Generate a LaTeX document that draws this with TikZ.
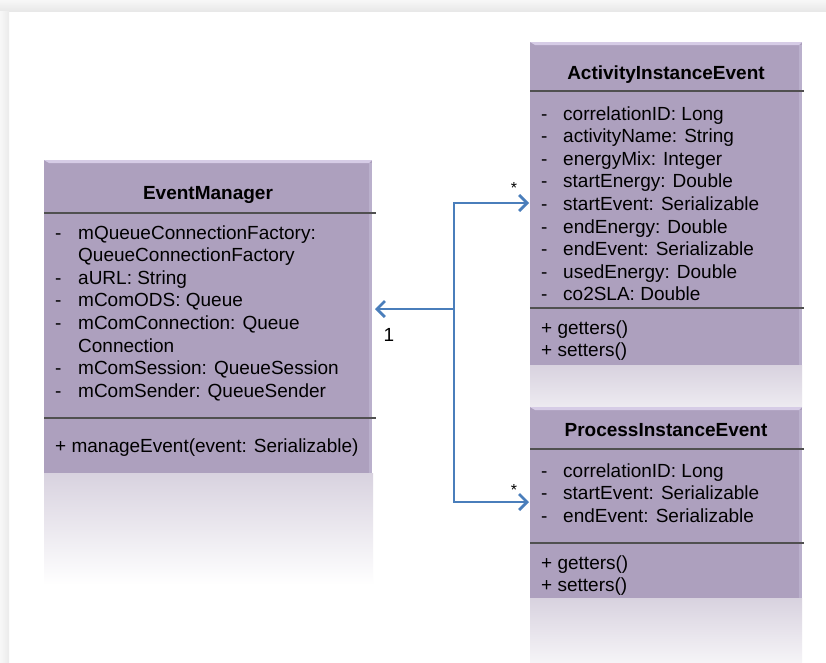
\documentclass[tikz,border=0pt]{standalone}
\usepackage{fontspec}
\setmainfont{Liberation Sans}
\usetikzlibrary{arrows.meta,calc}

\definecolor{classfill}{RGB}{173,160,190}
\definecolor{classlight}{RGB}{214,204,230}
\definecolor{classside}{RGB}{186,176,204}
\definecolor{rulegray}{RGB}{80,80,80}
\definecolor{linkblue}{RGB}{74,126,187}
\definecolor{mirror}{RGB}{216,210,223}

\tikzset{
  classbox/.style={fill=classfill, draw=none, anchor=north west, inner sep=0pt, outer sep=0pt},
  mirrorbox/.style={draw=none, anchor=north west, inner sep=0pt, outer sep=0pt},
  classtitle/.style={font=\fontsize{19}{22.6}\selectfont\bfseries, anchor=base, inner sep=0pt},
  members/.style={font=\fontsize{19}{22.6}\selectfont, anchor=base west, inner sep=0pt, align=left},
  divider/.style={draw=rulegray, line width=1.1pt},
  assoc/.style={draw=linkblue, line width=2.8pt,
    -{Straight Barb[length=8pt,width=16pt,line width=2.8pt]}},
  mult/.style={font=\fontsize{19}{22}\selectfont, inner sep=0pt},
  star/.style={font=\fontsize{16}{18}\selectfont, inner sep=0pt}
}

% bevelled top edge and lit right edge of a class box
\newcommand{\bevel}[4]{%
  \fill[classlight] (#1,#2) -- (#3,#2) -- (#3-3,#2+3) -- (#1+5,#2+3) -- cycle;
  \fill[classside] (#3-3,#2+3) rectangle (#3,#4);
}

\begin{document}
\begin{tikzpicture}[x=1pt,y=-1pt]
  \useasboundingbox (0,0) rectangle (826,662);

  % page frame
  \fill[white] (0,0) rectangle (826,662);
  \shade[top color=black!3, bottom color=black!9] (0,0) rectangle (826,11);
  \shade[left color=black!3, right color=black!8] (0,11) rectangle (9,662);

  % reflections under the boxes
  \node[mirrorbox, top color=mirror, bottom color=white, minimum width=329pt, minimum height=112pt] (emMirror) at (44,473) {};
  \node[mirrorbox, top color=mirror, bottom color=mirror!45!white, minimum width=272pt, minimum height=42pt] (aieMirror) at (530,365) {};
  \node[mirrorbox, top color=mirror, bottom color=mirror!25!white, minimum width=272pt, minimum height=64pt] (pieMirror) at (530,598) {};

  % ---------- EventManager ----------
  \node[classbox, minimum width=328pt, minimum height=313pt] (em) at (44,160) {};
  \bevel{44}{160}{372}{473}
  \node[classtitle] (emTitle) at (208,199) {EventManager};
  \draw[divider] (44,213) -- (376,213);
  \node[members] (emAttr) at (55,239) {%
    \begin{tabular}[t]{@{}p{23pt}@{}l@{}}
      - & mQueueConnectionFactory:\\
        & QueueConnectionFactory\\
      - & aURL: String\\
      - & mComODS: Queue\\
      - & mComConnection: Queue\\
        & Connection\\
      - & mComSession: QueueSession\\
      - & mComSender: QueueSender
    \end{tabular}};
  \draw[divider] (44,418) -- (376,418);
  \node[members] (emOps) at (55,452) {+ manageEvent(event: Serializable)};

  % ---------- ActivityInstanceEvent ----------
  \node[classbox, minimum width=272pt, minimum height=323pt] (aie) at (530,42) {};
  \bevel{530}{42}{802}{365}
  \node[classtitle] (aieTitle) at (666,79) {ActivityInstanceEvent};
  \draw[divider] (530,91) -- (804,91);
  \node[members] (aieAttr) at (541,120) {%
    \begin{tabular}[t]{@{}p{22pt}@{}l@{}}
      - & correlationID: Long\\
      - & activityName: String\\
      - & energyMix: Integer\\
      - & startEnergy: Double\\
      - & startEvent: Serializable\\
      - & endEnergy: Double\\
      - & endEvent: Serializable\\
      - & usedEnergy: Double\\
      - & co2SLA: Double
    \end{tabular}};
  \draw[divider] (530,308) -- (804,308);
  \node[members] (aieOps) at (541,334) {%
    \begin{tabular}[t]{@{}l@{}}
      + getters()\\
      + setters()
    \end{tabular}};

  % ---------- ProcessInstanceEvent ----------
  \node[classbox, minimum width=272pt, minimum height=191pt] (pie) at (530,407) {};
  \bevel{530}{407}{802}{598}
  \node[classtitle] (pieTitle) at (666,436) {ProcessInstanceEvent};
  \draw[divider] (530,449) -- (804,449);
  \node[members] (pieAttr) at (541,477) {%
    \begin{tabular}[t]{@{}p{22pt}@{}l@{}}
      - & correlationID: Long\\
      - & startEvent: Serializable\\
      - & endEvent: Serializable
    \end{tabular}};
  \draw[divider] (530,543) -- (804,543);
  \node[members] (pieOps) at (541,569) {%
    \begin{tabular}[t]{@{}l@{}}
      + getters()\\
      + setters()
    \end{tabular}};

  % ---------- associations ----------
  \coordinate (hub) at (454,309);
  \coordinate (aieIn) at (529,203);
  \coordinate (pieIn) at (529,502);
  \draw[assoc] (hub) -- ([xshift=3pt]hub -| em.east);
  \draw[assoc] (hub) |- (aieIn);
  \draw[assoc] (hub) |- (pieIn);

  \node[mult] (oneLbl) at (389,335) {1};
  \node[star] (aieStar) at (514,188) {*};
  \node[star] (pieStar) at (514,490) {*};
\end{tikzpicture}
\end{document}
